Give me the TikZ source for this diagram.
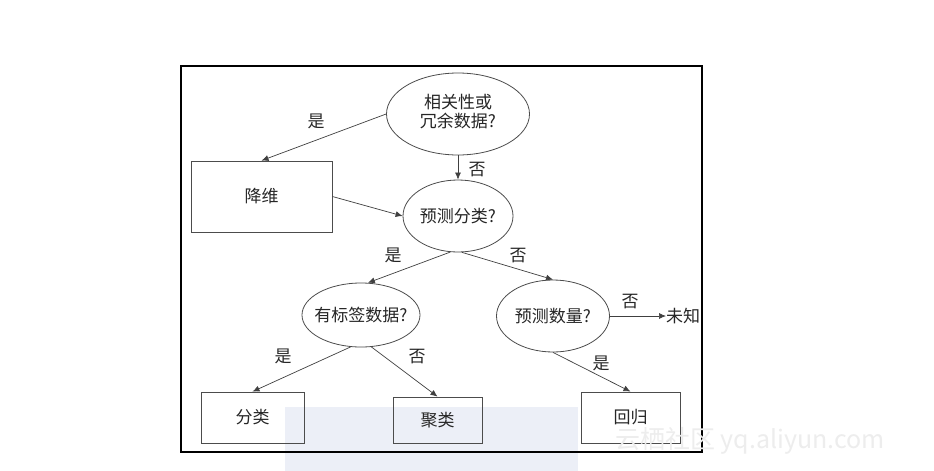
\documentclass[tikz,border=0pt]{standalone}
\usepackage{fontspec}
\setmainfont{Liberation Serif}
\newfontfamily\cjk{Noto Sans CJK SC}
\usetikzlibrary{shapes.geometric,arrows.meta}
\definecolor{artefact}{RGB}{236,239,247}
\newcommand{\zw}[1]{\makebox[0pt][c]{#1}}
\begin{document}
\begin{tikzpicture}[x=1pt,y=-1pt,
  every node/.style={font=\cjk\fontsize{17}{21}\selectfont, text=black!85},
  ell/.style={draw=black!70, line width=0.8pt, ellipse, inner sep=0pt},
  box/.style={draw=black!70, line width=0.8pt, rectangle, inner sep=0pt},
  arr/.style={draw=black!75, line width=0.7pt, -{Latex[length=7pt,width=6pt]}},
  lab/.style={inner sep=0pt}]
\useasboundingbox (0,0) rectangle (934,471);
\fill[white] (0,0) rectangle (934,471);
% faint background artefact
\fill[artefact] (285,407) rectangle (578,471);
% frame
\draw[black, line width=1.5pt] (181,66) rectangle (702,452);
% nodes
\node[ell, minimum width=143pt, minimum height=82pt] (e1) at (458,114) {\zw{\begin{tabular}{@{}c@{}}相关性或\\[-2pt]冗余数据?\end{tabular}}};
\node[box, minimum width=141pt, minimum height=71pt] (jw) at (261.5,196.5) {降维};
\node[ell, minimum width=110pt, minimum height=72pt] (e2) at (458,216) {\zw{预测分类?}};
\node[ell, minimum width=118pt, minimum height=64pt] (e3) at (361,315) {\zw{有标签数据?}};
\node[ell, minimum width=113pt, minimum height=72pt] (e4) at (553,316) {\zw{预测数量?}};
\node[lab, anchor=west] (wz) at (666,316) {未知};
\node[box, minimum width=103pt, minimum height=51pt] (fl) at (252.5,417.5) {分类};
\node[box, minimum width=89pt, minimum height=46pt] (jl) at (437.5,420) {聚类};
\node[box, minimum width=99pt, minimum height=51pt] (hg) at (630.5,417.5) {回归};
% connectors
\draw[arr] (e1.west) -- (jw.north);
\draw[arr] (e1.south) -- (e2.north);
\draw[arr] (jw.east) -- (e2.west);
\draw[arr] (e2.-102) -- (e3.78);
\draw[arr] (e2.-84) -- (e4.north);
\draw[arr] (e4.east) -- (wz.west);
\draw[arr] (e3.-108) -- (fl.north);
\draw[arr] (e3.-72) -- (jl.north);
\draw[arr] (e4.south) -- (hg.north);
% edge labels
\node[lab] (l1) at (316,121) {是};
\node[lab] (l2) at (477,170) {否};
\node[lab] (l3) at (393,255) {是};
\node[lab] (l4) at (518,256) {否};
\node[lab] (l5) at (630,302) {否};
\node[lab] (l6) at (283,356) {是};
\node[lab] (l7) at (417,357) {否};
\node[lab] (l8) at (601,363) {是};
% watermark
\node[lab, anchor=west, text=black!7, font=\cjk\fontsize{25}{28}\selectfont] (wm) at (615,441) {云栖社区 yq.aliyun.com};
\end{tikzpicture}
\end{document}
